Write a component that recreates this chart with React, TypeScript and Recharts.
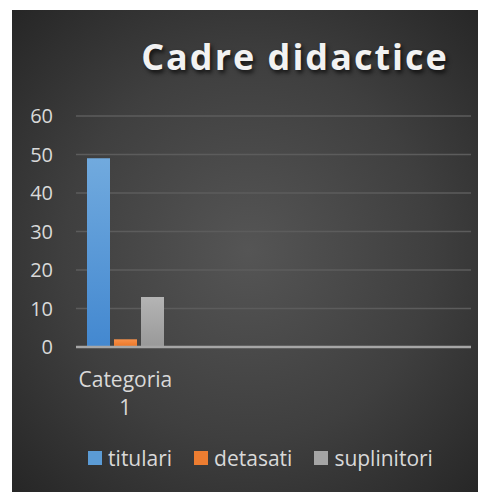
import React from "react";
import { BarChart, Bar, XAxis, YAxis, CartesianGrid, Legend } from "recharts";

const categories = ["Categoria 1", "", "", ""];
const titulari = [49, null, null, null];
const detasati = [2, null, null, null];
const suplinitori = [13, null, null, null];
const yTicks = [0, 10, 20, 30, 40, 50, 60];

const seriesInfo = [
  { key: "titulari", label: "titulari", grad: "gBlue", swatch: "#5b9bd5" },
  { key: "detasati", label: "detasati", grad: "gOrange", swatch: "#ed7d31" },
  { key: "suplinitori", label: "suplinitori", grad: "gGray", swatch: "#a5a5a5" },
];

const data = categories.map((name, i) => ({
  name,
  titulari: titulari[i],
  detasati: detasati[i],
  suplinitori: suplinitori[i],
}));

const FONT = "'Open Sans', 'DejaVu Sans', sans-serif";
const TEXT = "#d9d9d9";

const CatTick = (props: any) => {
  const { x, y, payload } = props;
  const words = String(payload.value).split(" ").filter((w) => w.length);
  return (
    <text x={x} y={y} textAnchor="middle" fill={TEXT} fontSize={21} fontFamily={FONT}>
      {words.map((w, i) => (
        <tspan key={i} x={x} dy={i === 0 ? 32 : 28}>
          {w}
        </tspan>
      ))}
    </text>
  );
};

const LegendContent = () => (
  <div style={{ display: "flex", justifyContent: "center", gap: 22, fontFamily: FONT, fontSize: 21, color: TEXT, lineHeight: "26px", paddingLeft: 24 }}>
    {seriesInfo.map((s) => (
      <div key={s.key} style={{ display: "flex", alignItems: "center" }}>
        <div style={{ width: 14, height: 14, background: s.swatch, marginRight: 6 }} />
        <span>{s.label}</span>
      </div>
    ))}
  </div>
);

export default function App() {
  return (
    <div
      style={{
        position: "relative",
        width: 473,
        height: 482,
        margin: "2px 0 0 4px",
        background: "radial-gradient(ellipse at 50% 50%, #555555 0%, #3f3f3f 55%, #262626 100%)",
        overflow: "hidden",
      }}
    >
      <div
        style={{
          position: "absolute",
          left: 0,
          width: 566,
          top: 23,
          textAlign: "center",
          fontFamily: FONT,
          fontWeight: 700,
          fontSize: 36,
          letterSpacing: 2,
          color: "#f2f2f2",
          textShadow: "2px 3px 4px rgba(0,0,0,0.7)",
          lineHeight: "48px",
        }}
      >
        Cadre didactice
      </div>
      <BarChart
        width={473}
        height={482}
        data={data}
        margin={{ top: 106, right: 14, left: 14, bottom: 0 }}
        barCategoryGap={11}
        barGap={4}
        style={{ position: "absolute", left: 0, top: 0 }}
      >
        <defs>
          <linearGradient id="gBlue" x1="0" y1="0" x2="0" y2="1">
            <stop offset="0%" stopColor="#71aade" />
            <stop offset="100%" stopColor="#4388d0" />
          </linearGradient>
          <linearGradient id="gOrange" x1="0" y1="0" x2="0" y2="1">
            <stop offset="0%" stopColor="#f7914a" />
            <stop offset="100%" stopColor="#ea7424" />
          </linearGradient>
          <linearGradient id="gGray" x1="0" y1="0" x2="0" y2="1">
            <stop offset="0%" stopColor="#b4b4b4" />
            <stop offset="100%" stopColor="#999999" />
          </linearGradient>
        </defs>
        <CartesianGrid vertical={false} stroke="#5c5c5c" strokeWidth={1.5} />
        <XAxis
          dataKey="name"
          height={119}
          tickLine={false}
          axisLine={{ stroke: "#a6a6a6", strokeWidth: 2.5 }}
          tick={<CatTick />}
          interval={0}
        />
        <YAxis
          domain={[0, 60]}
          ticks={yTicks}
          width={50}
          axisLine={false}
          tickLine={false}
          tickMargin={17}
          tick={{ fill: TEXT, fontSize: 20, fontFamily: FONT }}
        />
        <Legend
          content={<LegendContent />}
          wrapperStyle={{ position: "absolute", top: 435, left: 0, width: 473 }}
        />
        {seriesInfo.map((s) => (
          <Bar key={s.key} dataKey={s.key} name={s.label} fill={`url(#${s.grad})`} isAnimationActive={false} />
        ))}
      </BarChart>
    </div>
  );
}
